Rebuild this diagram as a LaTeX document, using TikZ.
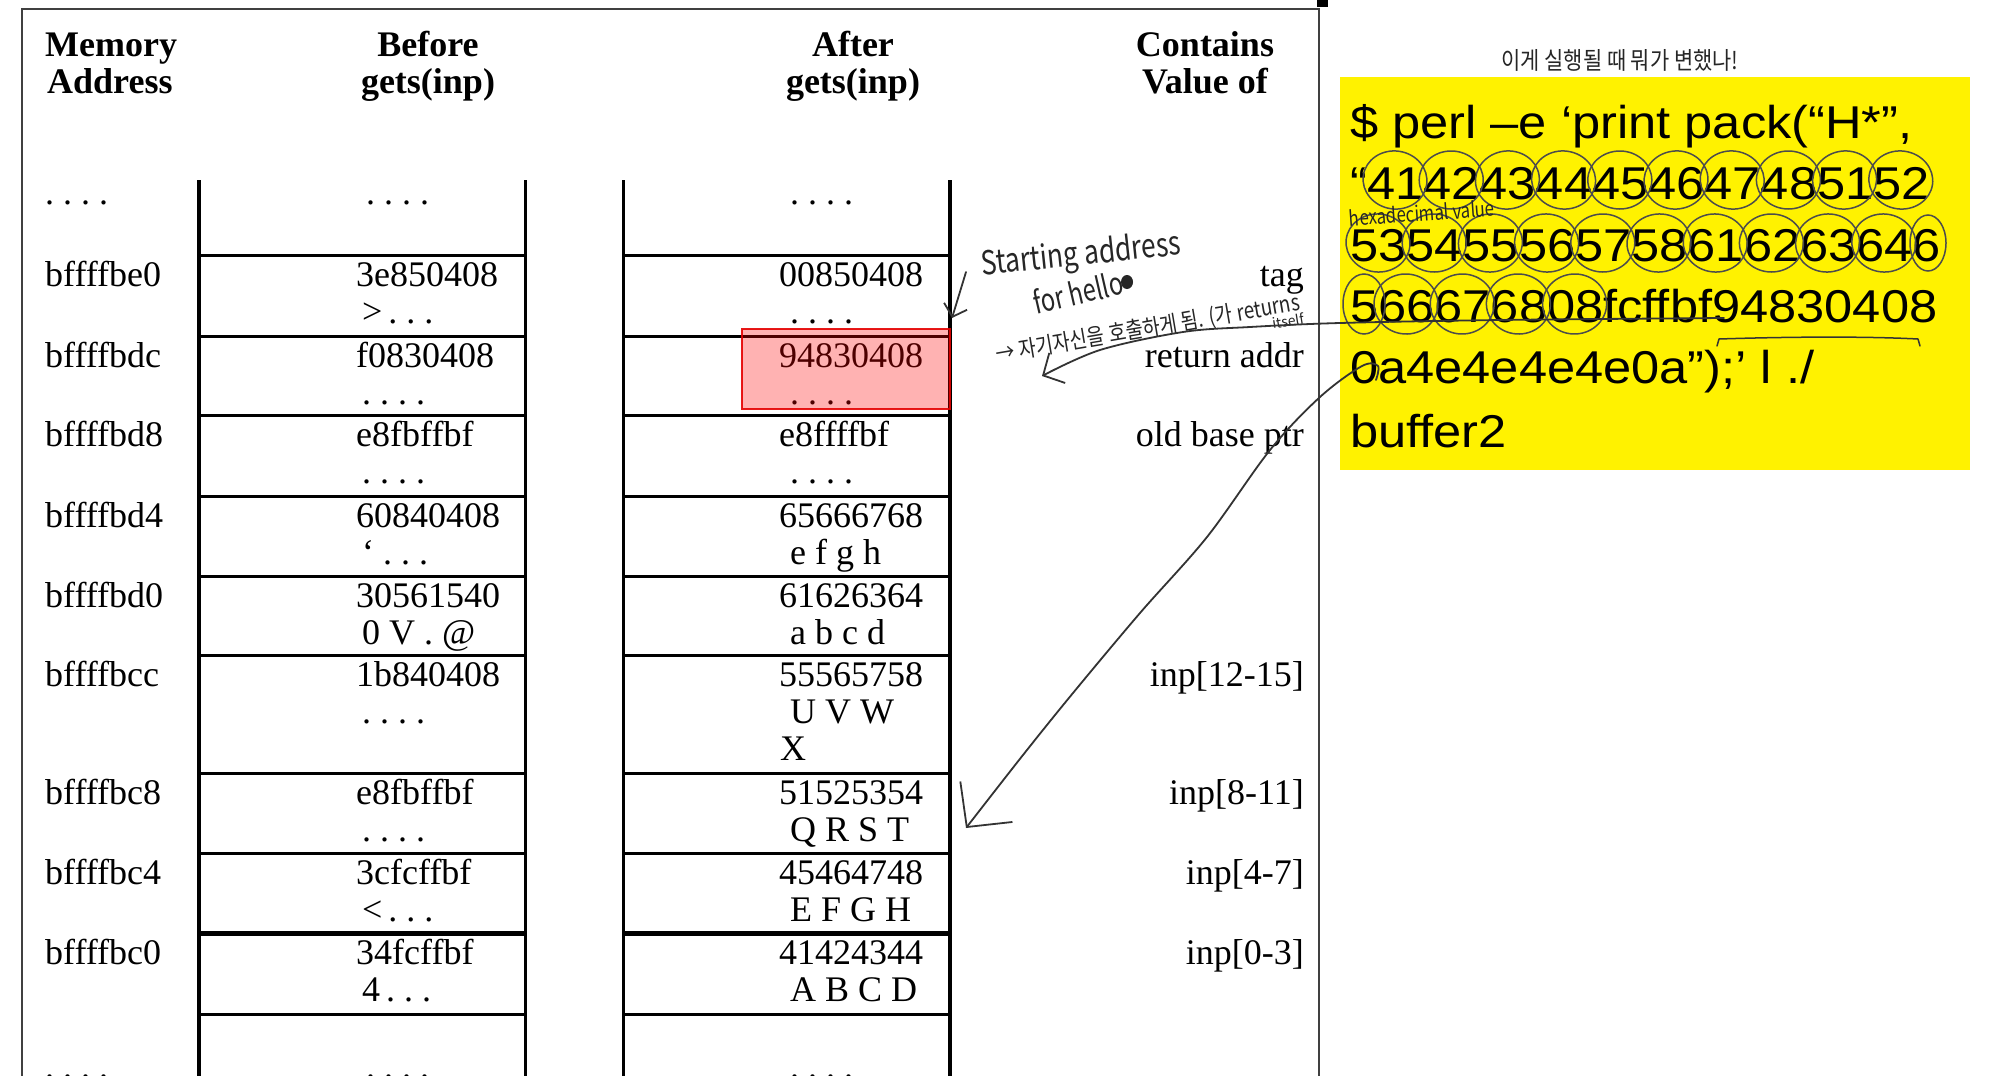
\documentclass[tikz,border=0pt]{standalone}
\usepackage{fontspec}
\usepackage{graphicx}
\setmainfont{Liberation Serif}
\newfontfamily\arialfont[FakeStretch=1.1]{Liberation Sans}
\newfontfamily\krfont{Noto Sans CJK KR}
\usetikzlibrary{arrows.meta}
\newcommand\memrow[7]{%
  \node[tl] (ad#2) at (45,#1+31) {#3};
  \node[tl] (ba#2) at (356,#1+31) {#4};
  \node[tl] (bb#2) at (362,#1+68) {#5};
  \node[tl] (aa#2) at (779,#1+31) {#6};
  \node[tl] (ab#2) at (790,#1+68) {#7};
  \draw[rowline] (199,#1) -- (525.5,#1);
  \draw[rowline] (623.7,#1) -- (950,#1);
}
\begin{document}
\begin{tikzpicture}[x=1pt,y=-1pt,
  tl/.style={inner sep=0pt,anchor=base west,font=\fontsize{36}{40}\selectfont},
  tr/.style={inner sep=0pt,anchor=base east,font=\fontsize{36}{40}\selectfont},
  hd/.style={inner sep=0pt,anchor=base,font=\fontsize{36}{40}\selectfont\bfseries},
  hdl/.style={inner sep=0pt,anchor=base west,font=\fontsize{36}{40}\selectfont\bfseries},
  colline/.style={line width=3.4pt,black},
  rowline/.style={line width=3pt,black},
  frameline/.style={line width=2.4pt,black!75},
  yl/.style={inner sep=0pt,anchor=base west,font=\arialfont\fontsize{46}{50}\selectfont},
  hand/.style={line width=1.8pt,black!80,line cap=round,line join=round},
  circ/.style={line width=1.5pt,black!70},
  hw/.style={inner sep=0pt,text=black!85,font=\krfont}
]
\useasboundingbox (0,0) rectangle (2000,1076);
\fill[white] (0,0) rectangle (2000,1076);

% frame
\draw[frameline] (22,1080) -- (22,9) -- (1319,9) -- (1319,1080);
\fill[black] (1317,0) rectangle (1328,7);

% headers
\node[hdl] (h1a) at (45,56) {Memory};
\node[hdl] (h1b) at (47,93) {Address};
\node[hd] (h2a) at (428,56) {Before};
\node[hd] (h2b) at (428,93) {gets(inp)};
\node[hd] (h3a) at (853,56) {After};
\node[hd] (h3b) at (853,93) {gets(inp)};
\node[hd] (h4a) at (1205,56) {Contains};
\node[hd] (h4b) at (1205,93) {Value of};

% column verticals
\draw[colline] (199,180) -- (199,1080);
\draw[colline] (525.5,180) -- (525.5,1080);
\draw[colline] (623.7,180) -- (623.7,1080);
\draw[colline] (950,180) -- (950,1080);

% top dots
\node[tl] (d0a) at (45,204) {.\ .\ .\ .};
\node[tl] (d0b) at (366,204) {.\ .\ .\ .};
\node[tl] (d0c) at (790,204) {.\ .\ .\ .};

% rows
\memrow{255.5}{1}{bffffbe0}{3e850408}{>\,.\ .\ .}{00850408}{.\ .\ .\ .}
\memrow{336}{2}{bffffbdc}{f0830408}{.\ .\ .\ .}{94830408}{.\ .\ .\ .}
\memrow{415.7}{3}{bffffbd8}{e8fbffbf}{.\ .\ .\ .}{e8ffffbf}{.\ .\ .\ .}
\memrow{496}{4}{bffffbd4}{60840408}{\symbol{96}\ .\ .\ .}{65666768}{e f g h}
\memrow{576.5}{5}{bffffbd0}{30561540}{0 V . @}{61626364}{a b c d}
\memrow{655.6}{6}{bffffbcc}{1b840408}{.\ .\ .\ .}{55565758}{U V W}
\node[tl] (ac6) at (780,760.6) {X};
\memrow{773}{7}{bffffbc8}{e8fbffbf}{.\ .\ .\ .}{51525354}{Q R S T}
\memrow{853}{8}{bffffbc4}{3cfcffbf}{<\,.\ .\ .}{45464748}{E F G H}
\memrow{933.7}{9}{bffffbc0}{34fcffbf}{4\,.\ .\ .}{41424344}{A B C D}
\draw[line width=4.5pt] (199,933.7) -- (525.5,933.7);
\draw[line width=4.5pt] (623.7,933.7) -- (950,933.7);
\draw[rowline] (199,1014) -- (525.5,1014);
\draw[rowline] (623.7,1014) -- (950,1014);

% bottom dots (cut off by the page edge, as in the reference)
\node[tl] (dza) at (45,1078) {.\ .\ .\ .};
\node[tl] (dzb) at (366,1078) {.\ .\ .\ .};
\node[tl] (dzc) at (790,1078) {.\ .\ .\ .};

% contains column
\node[tr] (c1) at (1304,286.5) {tag};
\node[tr] (c2) at (1304,367) {return addr};
\node[tr] (c3) at (1304,446.7) {old base ptr};
\node[tr] (c6) at (1304,686.6) {inp[12-15]};
\node[tr] (c7) at (1304,804) {inp[8-11]};
\node[tr] (c8) at (1304,884) {inp[4-7]};
\node[tr] (c9) at (1304,964.7) {inp[0-3]};

% highlighted return address
\draw[red!90!black,line width=2pt,fill=red,fill opacity=0.3,draw opacity=0.9] (742,329) rectangle (950,409);

% yellow command box
\fill[yellow] (1340,77) rectangle (1970,470);
\node[yl] (y1) at (1350,138) {\$ perl –e ‘print pack(“H*”,};
\node[yl] (y2) at (1350,199) {“41424344454647485152};
\node[yl] (y3) at (1350,261) {535455565758616263646};
\node[yl] (y4) at (1350,322) {566676808fcffbf94830408};
\node[yl] (y5) at (1350,383) {0a4e4e4e4e0a”);’ l ./};
\node[yl] (y6) at (1350,447) {buffer2};

% hand-drawn circles
\foreach \i in {0,...,9}{
  \draw[circ,rotate around={8*mod(\i,3)-8:(1395+56.2*\i,180)}] (1395+56.2*\i,180) ellipse [x radius=32,y radius=29];
}
\foreach \i in {0,...,9}{
  \draw[circ,rotate around={6*mod(\i,3)-6:(1378+56.2*\i,243)}] (1378+56.2*\i,243) ellipse [x radius=32,y radius=29];
}
\draw[circ] (1928,243) ellipse [x radius=18,y radius=28];
\draw[circ] (1364,304) ellipse [x radius=21,y radius=30];
\foreach \i in {0,...,3}{
  \draw[circ,rotate around={7*mod(\i,2)-4:(1406+56.2*\i,304)}] (1406+56.2*\i,304) ellipse [x radius=32,y radius=30];
}
\node[hw,rotate=4,font=\krfont\fontsize{21}{21}\selectfont] (hex) at (1422,213) {\scalebox{0.8}[1]{hexadecimal value}};

% bracket over 94830408
\coordinate (br1) at (1717,346);
\coordinate (br2) at (1920,346);
\draw[hand,line width=1.5pt] (br1) -- ++(2,-7) .. controls (1780,337) and (1860,336) .. (1918,339) -- (br2);

% top korean note
\node[hw,font=\krfont\fontsize{22}{22}\selectfont] (note) at (1620,60) {\scalebox{0.95}[1.1]{이게 실행될 때 뭐가 변했나!}};

% starting address annotation
\node[hw,rotate=6,font=\krfont\fontsize{33}{33}\selectfont] (start) at (1081,256) {\scalebox{0.8}[1]{Starting address}};
\node[hw,rotate=13,font=\krfont\fontsize{31}{31}\selectfont] (forh) at (1078,292) {\scalebox{0.76}[1]{for hello}};
\fill[black!85] (1127,282) ellipse [x radius=6,y radius=7];
\coordinate (sa0) at (966,272);
\coordinate (sa1) at (952,318);
\draw[hand,-{Straight Barb[length=11pt,width=24pt]}] (sa0) -- (sa1);

\node[hw,rotate=9.7,font=\krfont\fontsize{23}{23}\selectfont] (self) at (1148,329) {\scalebox{0.82}[1]{→ 자기자신을 호출하게 됨. (가 returns}};
\node[hw,rotate=9,font=\krfont\fontsize{14}{14}\selectfont] (itself) at (1288,321) {itself};

% arrow: return address
\coordinate (ra0) at (1724,318);
\coordinate (ra1) at (1042,376);
\draw[hand,-{Straight Barb[length=16pt,width=34pt]}] plot[smooth,tension=0.55] coordinates {(ra0) (1500,320) (1340,323) (1250,327) (1183,332) (1100,350) (ra1)};

% arrow: 0a... to inp[8-11]
\coordinate (lo0) at (1376,380);
\coordinate (lo1) at (966,828);
\draw[hand,-{Straight Barb[length=32pt,width=66pt]}] plot[smooth,tension=0.55] coordinates {(lo0) (1378,366) (1362,366) (1320,397) (1270,450) (1207,537) (1140,613) (1073,693) (1023,755) (lo1)};

\end{tikzpicture}
\end{document}
